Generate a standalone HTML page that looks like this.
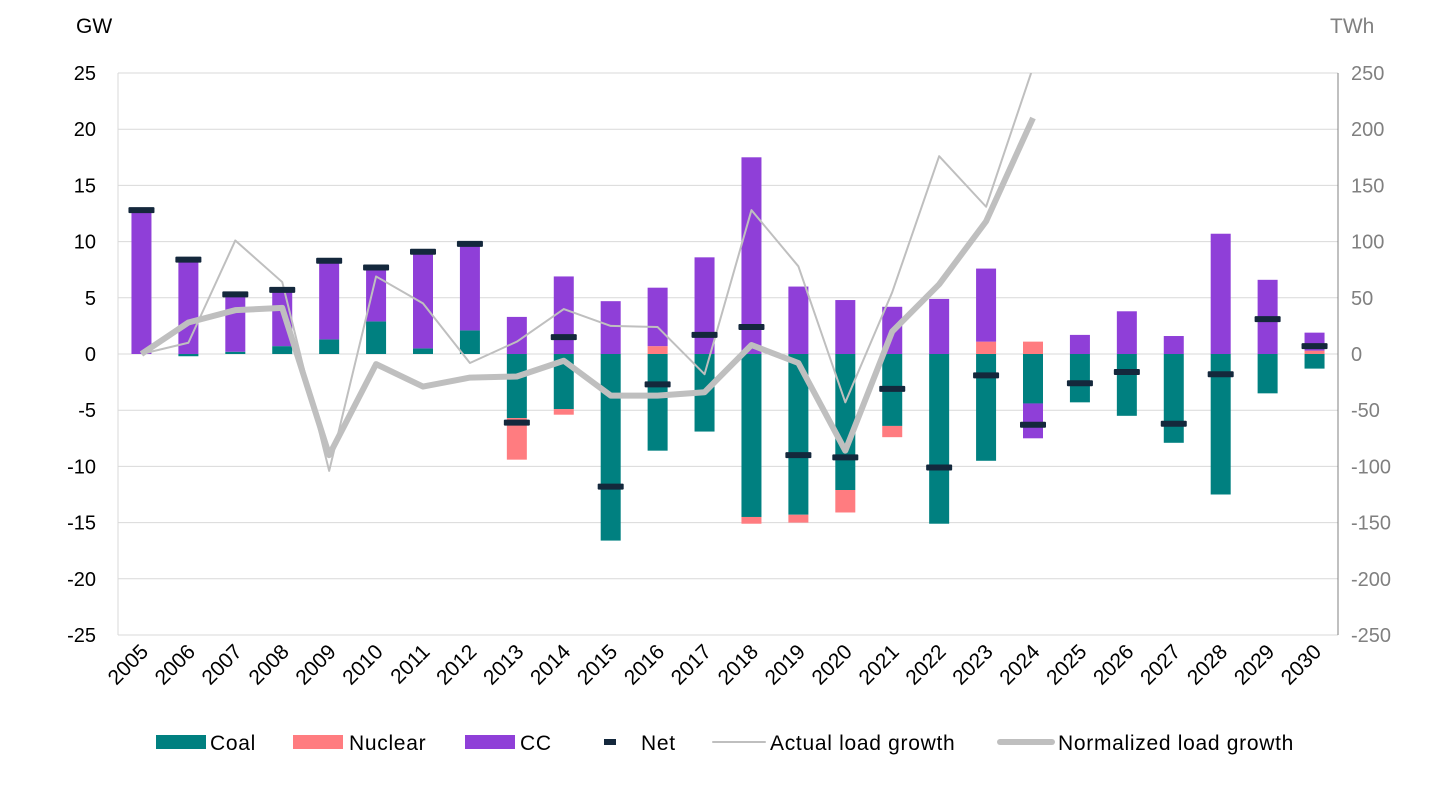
<!DOCTYPE html>
<html><head><meta charset="utf-8"><style>
body{margin:0;background:#fff;font-family:"Liberation Sans",sans-serif}
svg text{font-family:"Liberation Sans",sans-serif}
</style></head><body>
<svg id="c" width="1456" height="781" xmlns="http://www.w3.org/2000/svg"></svg>
<script>
const years=[2005,2006,2007,2008,2009,2010,2011,2012,2013,2014,2015,2016,2017,2018,2019,2020,2021,2022,2023,2024,2025,2026,2027,2028,2029,2030];
const coal=[0,-0.2,0.2,0.7,1.3,2.9,0.5,2.1,-5.7,-4.9,-16.6,-8.6,-6.9,-14.5,-14.3,-12.1,-6.4,-15.1,-9.5,-4.4,-4.3,-5.5,-7.9,-12.5,-3.5,-1.3];
const nuclear=[0,0,0,0,0,0,0,0,-3.7,-0.5,0,0.7,0,-0.6,-0.7,-2.0,-1.0,0,1.1,1.1,0,0,0,0,0,0.3];
const cc=[12.8,8.5,5.2,5.0,7.0,4.8,8.6,7.7,3.3,6.9,4.7,5.2,8.6,17.5,6.0,4.8,4.2,4.9,6.5,-3.1,1.7,3.8,1.6,10.7,6.6,1.6];
const net=[12.8,8.4,5.3,5.7,8.3,7.7,9.1,9.8,-6.1,1.5,-11.8,-2.7,1.7,2.4,-9.0,-9.2,-3.1,-10.1,-1.9,-6.3,-2.6,-1.6,-6.2,-1.8,3.1,0.7];
const actual=[0,10,101,64,-104,69,45,-8,11,40,25,24,-18,128,78,-43,55,176,131,255];
const normalized=[0,28,39,41,-90,-9,-29,-21,-20,-6,-37,-37,-34,8,-8,-86,20,62,118,210];
const leftTicks=[25,20,15,10,5,0,-5,-10,-15,-20,-25];
const rightTicks=[250,200,150,100,50,0,-50,-100,-150,-200,-250];

const svg=document.getElementById('c');const NS='http://www.w3.org/2000/svg';
function el(t,a,p){const e=document.createElementNS(NS,t);for(const k in a)e.setAttribute(k,a[k]);(p||svg).appendChild(e);return e;}
const L=118,R=1338,T=73,B=635;
const bw=(R-L)/years.length;
const x=i=>L+bw*(i+0.5);
const y=v=>T+(25-v)*(B-T)/50;
const y2=v=>y(v/10);
leftTicks.forEach(v=>{const g=el('line',{x1:L,x2:R,y1:y(v),y2:y(v),stroke:'#d9d9d9','stroke-width':1});
const t=el('text',{x:96,y:y(v)+7,'text-anchor':'end','font-size':20,fill:'#000'});t.textContent=v;});
rightTicks.forEach(v=>{const t=el('text',{x:1351,y:y2(v)+7,'font-size':20,fill:'#808080'});t.textContent=v;});
let a=el('line',{x1:L,x2:L,y1:T,y2:B,stroke:'#d9d9d9'});
a=el('line',{x1:R,x2:R,y1:T,y2:B,stroke:'#808080'});
let t=el('text',{x:76,y:33,'font-size':21});t.textContent='GW';
t=el('text',{x:1330,y:33,'font-size':21,fill:'#808080'});t.textContent='TWh';
const cp=el('clipPath',{id:'pc'});el('rect',{x:L,y:T,width:R-L,height:B-T},cp);
years.forEach((yr,i)=>{
 let pos=0,neg=0;
 [[coal,'#008080','bar-coal'],[nuclear,'#ff7c80','bar-nuclear'],[cc,'#8f3fd8','bar-cc']].forEach(([arr,col,nm])=>{
  const v=arr[i];if(!v)return;let y0,y1;
  if(v>0){y0=pos;y1=pos+v;pos=y1;}else{y0=neg;y1=neg+v;neg=y1;}
  const r=el('rect',{x:x(i)-10,width:20,y:y(Math.max(y0,y1)),height:Math.abs(y(y0)-y(y1)),fill:col});
  
 });
 const tx=el('text',{transform:`translate(${x(i)+8},${653}) rotate(-45)`,'text-anchor':'end','font-size':21});tx.textContent=yr;
});
function line(arr,w,col,nm){const p=el('polyline',{points:arr.map((v,i)=>x(i)+','+y2(v)).join(' '),fill:'none',stroke:col,'stroke-width':w,'stroke-linejoin':'round','clip-path':'url(#pc)'});}
line(actual,2,'#bfbfbf','actual-load-growth-line');
line(normalized,6,'#bfbfbf','normalized-load-growth-line');
net.forEach((v,i)=>{const r=el('rect',{x:x(i)-13,width:26,y:y(v)-3,height:6,fill:'#14283c',rx:1});});
const leg=[['rect','#008080','Coal',156,210],['rect','#ff7c80','Nuclear',293,349],['rect','#8f3fd8','CC',465,520],['net','#14283c','Net',629,641],['thin','#bfbfbf','Actual load growth',713,770],['thick','#bfbfbf','Normalized load growth',1000,1058]];
leg.forEach(([k,c,n,lx,tx])=>{const g=el('g',{});
 if(k==='rect')el('rect',{x:lx,y:735,width:50,height:14,fill:c},g);
 else if(k==='net'){el('rect',{x:lx-25,y:739,width:12,height:6,fill:c},g);}
 else{el('line',{x1:lx,x2:lx+52,y1:742,y2:742,stroke:c,'stroke-width':k==='thin'?2:6,'stroke-linecap':'round'},g);}
 const tt=el('text',{x:tx,y:750,'font-size':21,'letter-spacing':0.7},g);tt.textContent=n;});
</script>
</body></html>
